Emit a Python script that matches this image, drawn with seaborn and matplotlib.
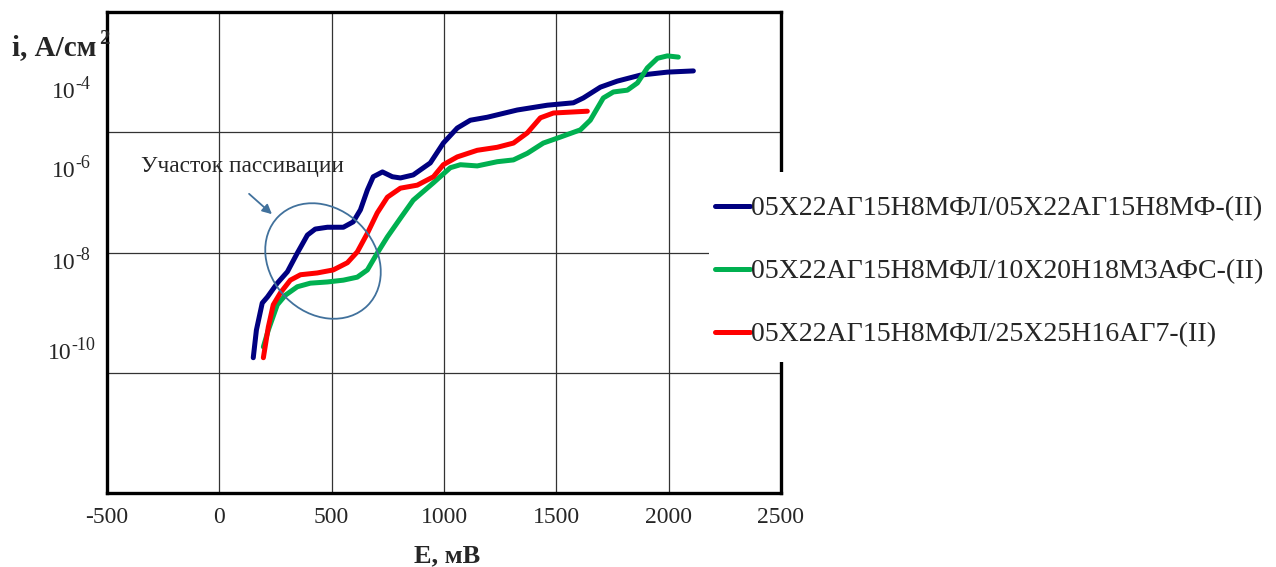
import numpy as np
import pandas as pd
import matplotlib.pyplot as plt
import seaborn as sns
from matplotlib.patches import Ellipse, Rectangle
from matplotlib.lines import Line2D
from matplotlib.ticker import FixedLocator, LogLocator, MultipleLocator, NullFormatter
from matplotlib.transforms import Affine2D

# series names (legend)
names = ["05Х22АГ15Н8МФЛ/05Х22АГ15Н8МФ-(II)",
         "05Х22АГ15Н8МФЛ/10Х20Н18М3АФС-(II)",
         "05Х22АГ15Н8МФЛ/25Х25Н16АГ7-(II)"]
colors = ["#000080", "#00B050", "#FF0000"]

# E, mV  and  log10(i, A/cm2)
blue_E = [151, 165, 191, 214, 258, 303, 347, 392, 427, 481, 552, 596, 628, 659, 685, 726,
          770, 806, 863, 939, 997, 1059, 1117, 1193, 1326, 1460, 1576, 1620, 1696, 1771,
          1874, 1994, 2110]
blue_lg = [-9.75, -9.29, -8.84, -8.74, -8.51, -8.32, -8.01, -7.71, -7.61, -7.58, -7.58, -7.49,
           -7.29, -6.96, -6.74, -6.66, -6.74, -6.76, -6.71, -6.51, -6.18, -5.93, -5.80, -5.75,
           -5.63, -5.55, -5.51, -5.43, -5.25, -5.15, -5.05, -5.00, -4.98]

green_E = [196, 218, 258, 294, 347, 405, 481, 552, 614, 659, 703, 748, 806, 863, 953, 1028,
           1073, 1148, 1237, 1309, 1371, 1442, 1518, 1607, 1651, 1709, 1754, 1816, 1861, 1905,
           1950, 1994, 2043]
green_lg = [-9.57, -9.29, -8.87, -8.71, -8.57, -8.51, -8.49, -8.46, -8.41, -8.29, -8.01, -7.74,
            -7.43, -7.13, -6.84, -6.59, -6.54, -6.56, -6.49, -6.46, -6.35, -6.18, -6.08, -5.96,
            -5.80, -5.43, -5.33, -5.30, -5.18, -4.93, -4.77, -4.73, -4.75]

red_E = [196, 218, 240, 272, 316, 361, 436, 507, 570, 614, 659, 703, 748, 806, 881, 953, 997,
         1059, 1148, 1237, 1309, 1371, 1429, 1487, 1638]
red_lg = [-9.75, -9.24, -8.87, -8.67, -8.46, -8.37, -8.34, -8.29, -8.17, -7.99, -7.68, -7.34,
          -7.08, -6.93, -6.88, -6.74, -6.54, -6.41, -6.30, -6.25, -6.18, -6.01, -5.76, -5.68,
          -5.65]

y_exps = ["-4", "-6", "-8", "-10"]

frames = []
for nm, E, lg in zip(names, [blue_E, green_E, red_E], [blue_lg, green_lg, red_lg]):
    frames.append(pd.DataFrame({"E": E, "i": 10.0 ** np.array(lg), "series": nm}))
df = pd.concat(frames, ignore_index=True)

sns.set_style("white")
plt.rcParams['font.family'] = ['Liberation Serif', 'DejaVu Serif']
plt.rcParams['axes.unicode_minus'] = False

W, H = 1276, 567
fig = plt.figure(figsize=(W / 100, H / 100), dpi=100)
ax = fig.add_axes([107 / W, 1 - 493 / H, 674 / W, 481 / H])

sns.lineplot(data=df, x="E", y="i", hue="series", palette=dict(zip(names, colors)),
             sort=False, estimator=None, lw=3.6, legend=False, ax=ax)
for ln in ax.lines:
    ln.set_solid_capstyle("round")
    ln.set_solid_joinstyle("round")

ax.set_yscale("log")
ax.set_xlim(-500, 2500)
ax.set_ylim(1e-12, 1e-4)
ax.set_xlabel("")
ax.set_ylabel("")

ax.set_xticks(range(-500, 2501, 500))
ax.xaxis.set_minor_locator(MultipleLocator(100))
ax.yaxis.set_major_locator(FixedLocator([1e-10, 1e-8, 1e-6]))
ax.yaxis.set_minor_locator(LogLocator(base=10, subs=np.arange(1, 10), numticks=100))
ax.yaxis.set_major_formatter(NullFormatter())
ax.yaxis.set_minor_formatter(NullFormatter())

ax.set_axisbelow(True)
ax.grid(True, which="major", color="#333333", lw=0.9)
ax.grid(False, which="minor")

ax.tick_params(axis="x", which="major", direction="out", length=4, width=1,
               labelsize=17, pad=6, color="black")
ax.tick_params(axis="x", which="minor", direction="in", length=4, width=1, color="black")
ax.tick_params(axis="y", which="major", length=0, labelleft=False)
ax.tick_params(axis="y", which="minor", direction="in", length=4, width=1, color="black")
for s in ax.spines.values():
    s.set_visible(True)
    s.set_color("black")
    s.set_linewidth(2.4)

# y labels as placed in the source figure ("10" + raised exponent)
for e, yb, xl in zip(y_exps, [98, 177, 269, 359], [52, 52, 52, 48]):
    fig.text(xl / W, 1 - yb / H, "10", fontsize=17, ha="left", va="baseline")
    fig.text((xl + 23) / W, 1 - (yb - 9) / H, e, fontsize=13, ha="left", va="baseline")

fig.text(12 / W, 1 - 55 / H, "i, А/см", fontsize=21, fontweight="bold", ha="left", va="baseline")
fig.text(99 / W, 1 - 44 / H, "2", fontsize=15, fontweight="bold", ha="left", va="baseline")
fig.text(447 / W, 1 - 562 / H, "Е, мВ", fontsize=19, fontweight="bold", ha="center", va="baseline")

# passivation annotation
ann_c = "#41719C"
ax.text((141 - 107) / 674, (493 - 172) / 481, "Участок пассивации", transform=ax.transAxes,
        fontsize=16.8, ha="left", va="baseline")
ax.annotate("", xy=((274 - 107) / 674, (493 - 216) / 481), xycoords="axes fraction",
            xytext=((247 - 107) / 674, (493 - 192) / 481), textcoords="axes fraction",
            arrowprops=dict(arrowstyle="-|>", color=ann_c, lw=1.3, mutation_scale=14))
px_tr = Affine2D().scale(1 / 674, 1 / 481) + ax.transAxes
ax.add_patch(Ellipse((323 - 107, 493 - 261), width=126, height=104, angle=-45,
                     transform=px_tr, fill=False, edgecolor=ann_c, lw=1.3, zorder=5))

# white legend area covering part of the frame
fig.add_artist(Rectangle((709 / W, 1 - 362 / H), 1 - 709 / W, 190 / H, transform=fig.transFigure,
                         facecolor="white", edgecolor="none", zorder=3))
handles = [Line2D([], [], color=c, lw=3.6, solid_capstyle="round") for c in colors]
fig.legend(handles, names, loc="upper left", bbox_to_anchor=(715 / W, 1 - 196 / H),
           frameon=False, fontsize=20.1, handlelength=1.25, handletextpad=0.05,
           labelspacing=1.34, borderpad=0, borderaxespad=0)

fig.savefig("out.png", dpi=100)
